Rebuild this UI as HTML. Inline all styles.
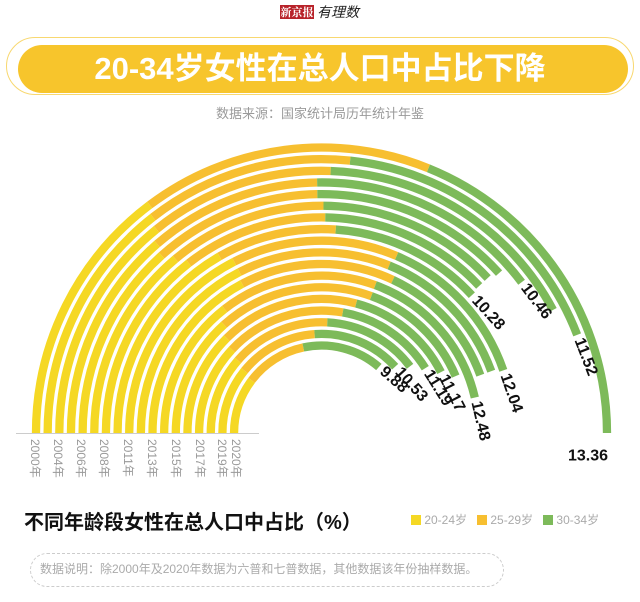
<!DOCTYPE html>
<html><head><meta charset="utf-8"><style>
html,body{margin:0;padding:0;background:#fff;}
body{width:640px;height:602px;position:relative;overflow:hidden;font-family:"Liberation Sans","Noto Sans CJK SC",sans-serif;}
.abs{position:absolute;}
</style></head><body>
<div class="abs" style="left:280px;top:5px;width:34px;height:14px;background:#b8232a;color:#fff;font:bold 11px 'Noto Serif CJK SC',serif;line-height:14px;text-align:center;">新京报</div>
<div class="abs" style="left:317px;top:3px;font:italic 14px 'Noto Sans CJK SC',sans-serif;color:#222;line-height:18px;">有理数</div>
<div class="abs" style="left:6px;top:37px;width:628px;height:58px;border:1.5px solid #f8d870;border-radius:30px;box-sizing:border-box;"></div>
<div class="abs" style="left:18px;top:45px;width:610px;height:48px;background:#f7c52c;border-radius:24px;"></div>
<div class="abs" style="left:0;top:45px;width:640px;height:48px;line-height:48px;text-align:center;color:#fff;font-weight:bold;font-size:31px;">20-34岁女性在总人口中占比下降</div>
<div class="abs" style="left:0;top:103px;width:640px;text-align:center;color:#9a9a9a;font-size:13px;">数据来源：国家统计局历年统计年鉴</div>
<svg class="abs" style="left:0;top:0" width="640" height="602" id="s">
<line x1="16" y1="433.5" x2="259" y2="433.5" stroke="#ccc" stroke-width="1"/>
<g id="arcs"></g>
<g font-size="16" font-weight="bold" fill="#111" id="labs"></g>
<text x="588" y="450" font-size="16" font-weight="bold" fill="#111" text-anchor="middle" dominant-baseline="hanging">13.36</text>
<g font-size="12" fill="#999">
<text transform="translate(31,439) rotate(90)">2000年</text>
<text transform="translate(54,439) rotate(90)">2004年</text>
<text transform="translate(77,439) rotate(90)">2006年</text>
<text transform="translate(100,439) rotate(90)">2008年</text>
<text transform="translate(124,439) rotate(90)">2011年</text>
<text transform="translate(148,439) rotate(90)">2013年</text>
<text transform="translate(172,439) rotate(90)">2015年</text>
<text transform="translate(196,439) rotate(90)">2017年</text>
<text transform="translate(218,439) rotate(90)">2019年</text>
<text transform="translate(232,439) rotate(90)">2020年</text>
</g>
</svg>
<div class="abs" style="left:24px;top:506px;font-weight:bold;font-size:20px;color:#111;">不同年龄段女性在总人口中占比（%）</div>
<div class="abs" style="left:411px;top:513px;font-size:12px;color:#aaa;line-height:14px;white-space:nowrap;">
<span style="display:inline-block;width:10px;height:10px;background:#f5d824;vertical-align:-1px;"></span> 20-24岁&nbsp;&nbsp;
<span style="display:inline-block;width:10px;height:10px;background:#f7bf30;vertical-align:-1px;"></span> 25-29岁&nbsp;&nbsp;
<span style="display:inline-block;width:10px;height:10px;background:#7dba5a;vertical-align:-1px;"></span> 30-34岁</div>
<div class="abs" style="left:30px;top:553px;width:474px;height:34px;border:1px dashed #ccc;border-radius:17px;box-sizing:border-box;"></div>
<div class="abs" style="left:40px;top:561px;font-size:12px;color:#aaa;line-height:16px;white-space:nowrap;">数据说明：除2000年及2020年数据为六普和七普数据，其他数据该年份抽样数据。</div>
<script>
var cx=321.5,cy=433,R0=285.5,st=11.65,w=8.3;
var ye=[53,52,51,49,48,50,52,60,63,63,62,52,48,45,43,41,39,37];
var oe=[112,96,92,89,89,90.5,91,94,113,112,115,110,110,105,100,93,86,78];
var en=[180,159,152,143,138,137,137,137.5,161,160,160,167,157,153,148,143,138,131];
var labs={1:"11.52",3:"10.46",7:"10.28",8:"12.04",11:"12.48",13:"11.17",14:"11.19",16:"10.53",17:"9.88"};
function pt(r,a){a=a*Math.PI/180;return [cx-r*Math.cos(a),cy-r*Math.sin(a)];}
function arc(r,a1,a2,c){var p=pt(r,a1),q=pt(r,a2);var lg=(a2-a1)>180?1:0;
return '<path d="M'+p[0].toFixed(2)+' '+p[1].toFixed(2)+' A'+r+' '+r+' 0 '+lg+' 1 '+q[0].toFixed(2)+' '+q[1].toFixed(2)+'" fill="none" stroke="'+c+'" stroke-width="'+w+'"/>';}
var h='',lh='';
for(var i=0;i<18;i++){var r=R0-i*st;
h+=arc(r,0,ye[i],'#f5d824')+arc(r,ye[i],oe[i],'#f7bf30')+arc(r,oe[i],en[i],'#7dba5a');
if(labs[i]){var a=en[i]*Math.PI/180;var p=pt(r,en[i]);var tx=Math.sin(a),ty=-Math.cos(a);
var x=p[0]+tx*4,y=p[1]+ty*4;
lh+='<text transform="translate('+x.toFixed(1)+','+y.toFixed(1)+') rotate('+(en[i]-90)+')" dominant-baseline="central">'+labs[i]+'</text>';}}
document.getElementById('arcs').innerHTML=h;
document.getElementById('labs').innerHTML=lh;
</script>
</body></html>
